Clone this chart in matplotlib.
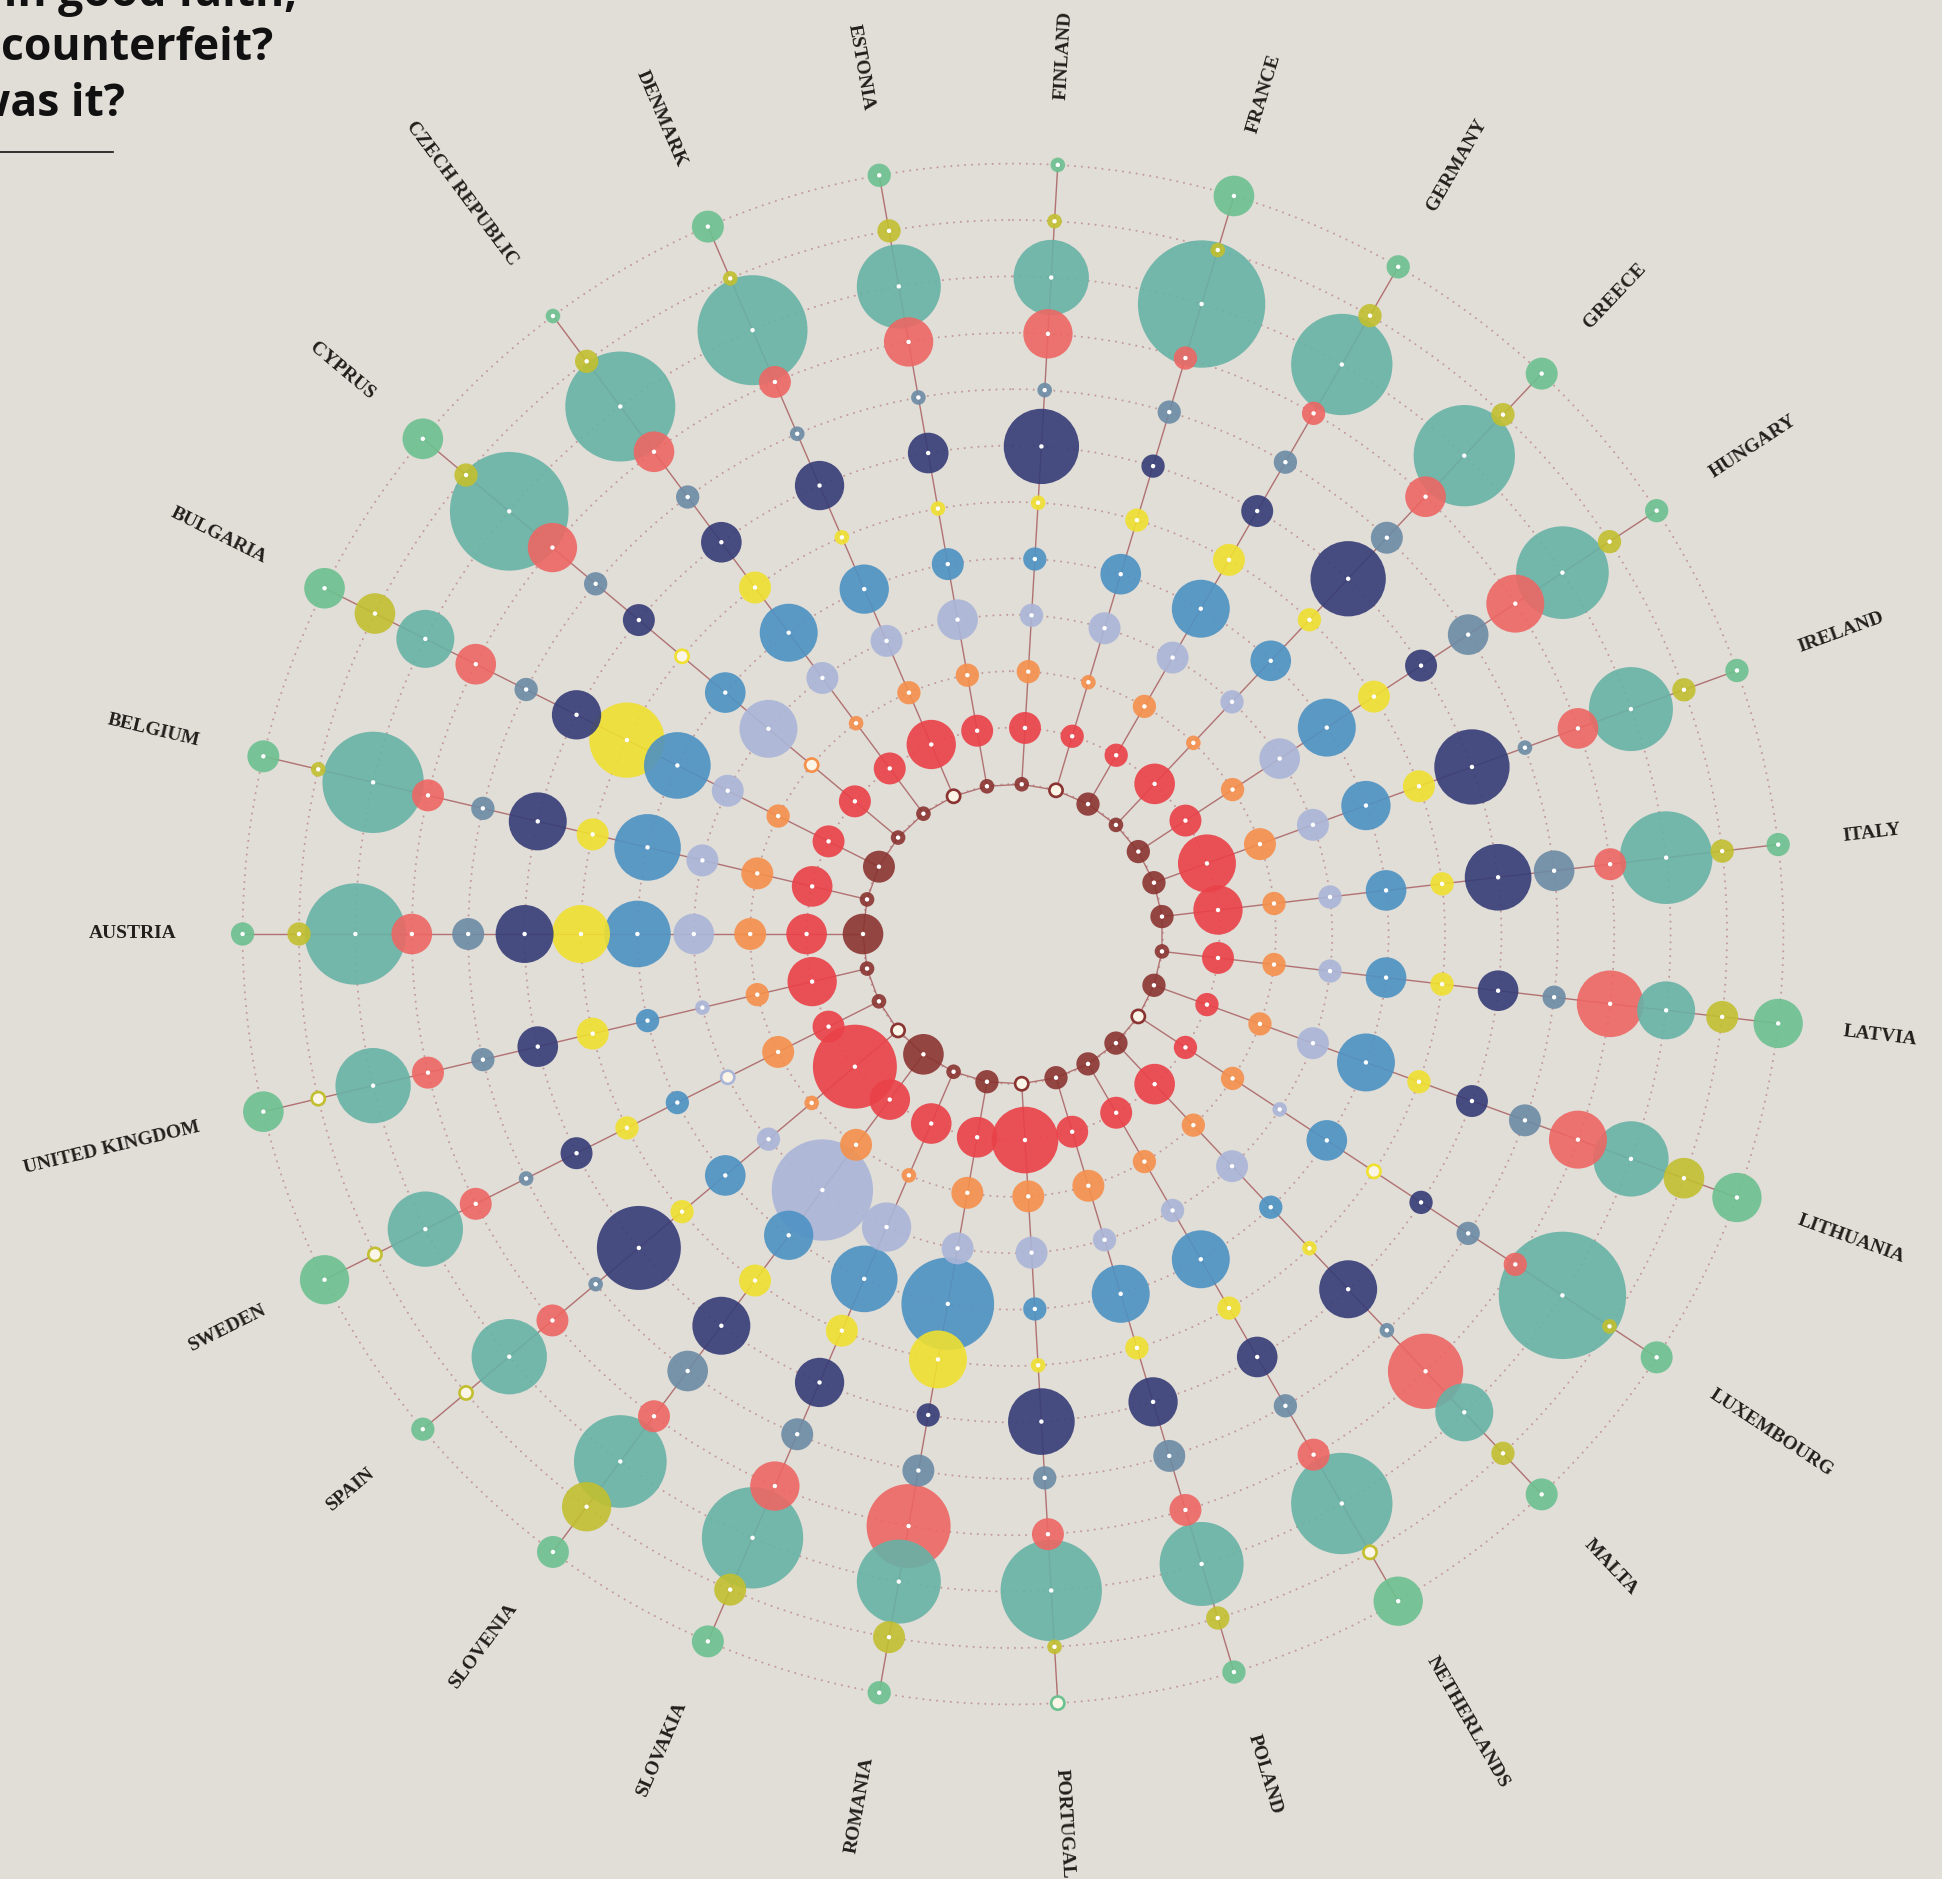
import numpy as np
import matplotlib
matplotlib.use("Agg")
import matplotlib.pyplot as plt
from matplotlib.patches import Circle

# ---- data: one score level per country and ring (0 = none) ----
countries = ["AUSTRIA", "BELGIUM", "BULGARIA", "CYPRUS", "CZECH REPUBLIC", "DENMARK",
             "ESTONIA", "FINLAND", "FRANCE", "GERMANY", "GREECE", "HUNGARY", "IRELAND",
             "ITALY", "LATVIA", "LITHUANIA", "LUXEMBOURG", "MALTA", "NETHERLANDS",
             "POLAND", "PORTUGAL", "ROMANIA", "SLOVAKIA", "SLOVENIA", "SPAIN", "SWEDEN",
             "UNITED KINGDOM"]

# rings from the centre outwards
dark_red = [4, 1, 3, 1, 1, 0, 1, 1, 0, 2, 1, 2, 2, 2, 1, 2, 0, 2, 2, 2, 0, 2, 1, 4, 0, 1, 1]
red      = [4, 4, 3, 3, 3, 5, 3, 3, 2, 2, 4, 3, 6, 5, 3, 2, 2, 4, 3, 3, 7, 4, 4, 4, 9, 3, 5]
orange   = [3, 3, 2, 0, 1, 2, 2, 2, 1, 2, 1, 2, 3, 2, 2, 2, 2, 2, 2, 3, 3, 3, 1, 3, 1, 3, 2]
lavender = [4, 3, 3, 6, 3, 3, 4, 2, 3, 3, 2, 4, 3, 2, 2, 3, 1, 3, 2, 2, 3, 3, 5, 11, 2, 0, 1]
blue     = [7, 7, 7, 4, 6, 5, 3, 2, 4, 6, 4, 6, 5, 4, 4, 6, 4, 2, 6, 6, 2, 10, 7, 5, 4, 2, 2]
yellow   = [6, 3, 8, 0, 3, 1, 1, 1, 2, 3, 2, 3, 3, 2, 2, 2, 0, 1, 2, 2, 1, 6, 3, 3, 2, 2, 3]
navy     = [6, 6, 5, 3, 4, 5, 4, 8, 2, 3, 8, 3, 8, 7, 4, 3, 2, 6, 4, 5, 7, 2, 5, 6, 9, 3, 4]
slate    = [3, 2, 2, 2, 2, 1, 1, 1, 2, 2, 3, 4, 1, 4, 2, 3, 2, 1, 2, 3, 2, 3, 3, 4, 1, 1, 2]
coral    = [4, 3, 4, 5, 4, 3, 5, 5, 2, 2, 4, 6, 4, 3, 7, 6, 2, 8, 3, 3, 3, 9, 5, 3, 3, 3, 3]
teal     = [11, 11, 6, 13, 12, 12, 9, 8, 14, 11, 11, 10, 9, 10, 6, 8, 14, 6, 11, 9, 11, 9, 11, 10, 8, 8, 8]
olive    = [2, 1, 4, 2, 2, 1, 2, 1, 1, 2, 2, 2, 2, 2, 3, 4, 1, 2, 0, 2, 1, 3, 3, 5, 0, 0, 0]
green    = [2, 3, 4, 4, 1, 3, 2, 1, 4, 2, 3, 2, 2, 2, 5, 5, 3, 3, 5, 2, 0, 2, 3, 3, 2, 5, 4]

series = [dark_red, red, orange, lavender, blue, yellow, navy, slate, coral, teal, olive, green]
colors = ['#8A3431', '#EA4148', '#F5904B', '#AAB6D8', '#4D92C3', '#F0E030',
          '#353C77', '#6C8BA5', '#ED6663', '#67B2A6', '#C1BF2F', '#6CC190']

BG = '#E1DDD7'
LINE = '#B07272'
DOTS = '#C39A9A'
CREAM = '#FBF5E8'

W, H = 1942, 1879
fig = plt.figure(figsize=(W / 100, H / 100), dpi=100)
fig.patch.set_facecolor(BG)
ax = fig.add_axes([0, 0, 1, 1])
ax.set_facecolor(BG)
ax.set_xlim(0, W)
ax.set_ylim(H, 0)
ax.axis('off')

cx, cy = 1013, 934
n = len(countries)
ang = np.deg2rad(180 - np.arange(n) * 360 / n)
ring_r = 150 + 56.4 * np.arange(len(series))


def radius(level):
    return 2.97 + 4.335 * level


# dotted guide rings
for rr in ring_r:
    ax.add_patch(Circle((cx, cy), rr, fill=False, ec=DOTS, lw=1.5,
                        ls=(0, (0.01, 3.3)), capstyle='round', zorder=1))

X = cx + np.outer(ring_r, np.cos(ang))   # shape (rings, countries)
Y = cy - np.outer(ring_r, np.sin(ang))

# spokes + inner polygon
for i in range(n):
    ax.plot(X[:, i], Y[:, i], color=LINE, lw=1.0, zorder=2, solid_capstyle='round')
ax.plot(np.append(X[0], X[0, 0]), np.append(Y[0], Y[0, 0]), color=LINE, lw=1.0, zorder=2)

# bubbles, largest first
bubbles = []
for j, vals in enumerate(series):
    for i, v in enumerate(vals):
        bubbles.append((v, X[j, i], Y[j, i], colors[j]))
bubbles.sort(key=lambda b: -b[0])
for v, x, y, c in bubbles:
    if v == 0:
        ax.add_patch(Circle((x, y), 6.6, fc=CREAM, ec=c, lw=1.9, zorder=5))
    else:
        ax.add_patch(Circle((x, y), radius(v), fc=c, ec='none', alpha=0.9, zorder=3))
        ax.add_patch(Circle((x, y), 2.2, fc='white', ec='none', zorder=6))

# country labels
for i, name in enumerate(countries):
    a = ang[i]
    deg = np.degrees(a)
    R = 836
    x, y = cx + R * np.cos(a), cy - R * np.sin(a)
    if np.cos(a) >= -1e-9:
        rot, ha = deg, 'left'
    else:
        rot, ha = deg - 180, 'right'
    ax.text(x, y, name, rotation=rot, rotation_mode='anchor', ha=ha, va='center',
            fontsize=14, fontweight='bold', family='Liberation Serif', color='#231F1C')

# title (cropped at the left edge of the page)
tkw = dict(ha='right', va='baseline', fontsize=32, fontweight='bold',
           family='Open Sans', color='#111111')
ax.text(297, 6, "Received in good faith,", **tkw)
ax.text(273, 60, "then found to be a counterfeit?", **tkw)
ax.text(125, 116, "Which note was it?", **tkw)
ax.plot([0, 113], [152, 152], color='#111111', lw=1.2)

fig.savefig("out.png", dpi=100, facecolor=BG)
